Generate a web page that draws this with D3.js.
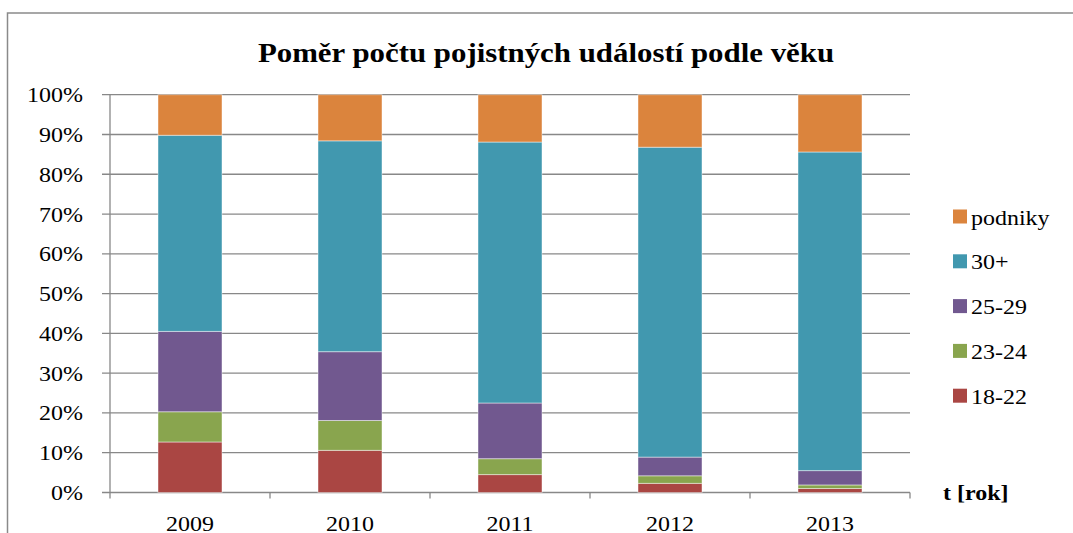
<!DOCTYPE html>
<html>
<head>
<meta charset="utf-8">
<script src="https://cdn.jsdelivr.net/npm/d3@7"></script>
<style>
    body { margin: 0; background: #fff; }
    text { font-family: "Times New Roman", "Liberation Serif", Tinos, "Nimbus Roman", Times, serif; fill: #000; }
</style>
</head>
<body>
<div id="chart"></div>
<script>
// donnees (en %)
const years = ["2009", "2010", "2011", "2012", "2013"];
const groups = ["18-22", "23-24", "25-29", "30+", "podniky"];
const v1822 = [12.7, 10.6, 4.5, 2.3, 1.0];
const v2324 = [7.6, 7.5, 4.0, 1.9, 0.9];
const v2529 = [20.2, 17.3, 14.0, 4.7, 3.6];
const v30 = [49.3, 53.0, 65.6, 77.9, 80.1];
const vPodniky = [10.2, 11.6, 11.9, 13.2, 14.4];
const yTicks = [0, 10, 20, 30, 40, 50, 60, 70, 80, 90, 100];
const colors = ["#AA4643", "#89A54E", "#71588F", "#4198AF", "#DB843D"];

class stackChart {
    constructor(params) {
        var me = this;
        this.cont = d3.select("#" + params.idCont);
        this.width = params.width;
        this.height = params.height;
        let svg, x, y, stretch = 1.17;

        this.init = function () {
            svg = me.cont.append("svg")
                .attr("width", me.width)
                .attr("height", me.height);

            // mesure la police reellement utilisee pour retrouver la largeur de l'original
            let probe = svg.append("text").attr("font-size", 21).text("100%");
            stretch = 56 / probe.node().getComputedTextLength();
            probe.remove();

            x = d3.scaleBand().domain(years).range([110, 910])
                .paddingInner(0.6).paddingOuter(0.3);
            y = d3.scaleLinear().domain([0, 100]).range([492.5, 94.7]);

            // cadre
            svg.append("rect")
                .attr("x", 7.5).attr("y", 13)
                .attr("width", 1100).attr("height", 600)
                .attr("fill", "none").attr("stroke", "#8a8a8a").attr("stroke-width", 1.5);

            setGrid();
            setBars();
            setAxes();
            setLegend();

            addText(546, 62, "Poměr počtu pojistných událostí podle věku", "middle", 27, "bold");
            addText(943, 500, "t [rok]", "start", 21, "bold");
        }

        function addText(px, py, str, anchor, size, weight) {
            // texte legerement etire horizontalement comme l'original
            svg.append("g")
                .attr("transform", "translate(" + px + "," + py + ") scale(" + stretch + ",1)")
                .append("text")
                .attr("text-anchor", anchor)
                .attr("font-size", size)
                .attr("font-weight", weight || "normal")
                .text(str);
        }

        function setGrid() {
            svg.append("g").selectAll("line").data(yTicks).enter()
                .append("line")
                .attr("x1", 102).attr("x2", 910)
                .attr("y1", d => y(d)).attr("y2", d => y(d))
                .attr("stroke", "#888").attr("stroke-width", 1.3);
        }

        function setBars() {
            let rows = years.map((yr, i) => ({
                year: yr, "18-22": v1822[i], "23-24": v2324[i], "25-29": v2529[i],
                "30+": v30[i], "podniky": vPodniky[i]
            }));
            let series = d3.stack().keys(groups)(rows);
            svg.append("g").selectAll("g").data(series).enter()
                .append("g").attr("fill", (d, i) => colors[i])
                .selectAll("rect").data(d => d).enter()
                .append("rect")
                .attr("x", d => x(d.data.year))
                .attr("width", x.bandwidth())
                .attr("y", d => y(d[1]))
                .attr("height", d => y(d[0]) - y(d[1]))
                .attr("stroke", "#fff").attr("stroke-opacity", 0.45).attr("stroke-width", 1);
        }

        function setAxes() {
            // axe vertical
            svg.append("line")
                .attr("x1", 110).attr("x2", 110).attr("y1", y(100)).attr("y2", y(0))
                .attr("stroke", "#888").attr("stroke-width", 1.3);
            // graduations horizontales
            let step = x.step();
            let ticks = d3.range(years.length + 1).map(i => 110 + i * step);
            svg.append("g").selectAll("line").data(ticks).enter()
                .append("line")
                .attr("x1", d => d).attr("x2", d => d)
                .attr("y1", y(0)).attr("y2", y(0) + 6)
                .attr("stroke", "#888").attr("stroke-width", 1.3);

            yTicks.forEach(t => addText(83, y(t) + 7.5, t + "%", "end", 21));
            years.forEach(yr => addText(x(yr) + x.bandwidth() / 2, 531, yr, "middle", 21));
        }

        function setLegend() {
            let rowsY = [395.7, 350.9, 306.1, 261.3, 216.5];
            groups.forEach((g, i) => {
                svg.append("rect")
                    .attr("x", 953).attr("y", rowsY[i] - 7)
                    .attr("width", 14).attr("height", 14)
                    .attr("fill", colors[i]);
                addText(971, rowsY[i] + 8, g, "start", 21);
            });
        }

        me.init();
    }
}

new stackChart({ idCont: "chart", width: 1073, height: 533 });
</script>
</body>
</html>
